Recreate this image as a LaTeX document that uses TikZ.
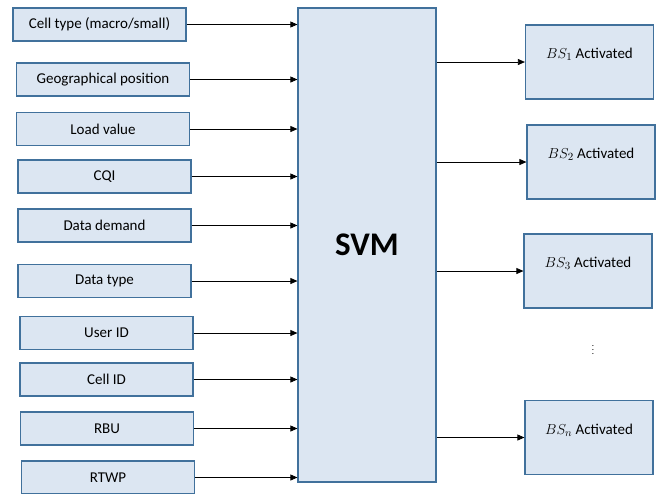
\documentclass[tikz,border=0pt]{standalone}
\usepackage{fontspec}
\setmainfont{Carlito}
\usetikzlibrary{arrows.meta}
\definecolor{boxfill}{RGB}{220,230,242}
\definecolor{boxline}{RGB}{65,113,156}

\begin{document}
\begin{tikzpicture}[x=1pt,y=-1pt,
    inbox/.style={draw=boxline, fill=boxfill, line width=1.2pt,
        minimum width=173pt, minimum height=33pt, inner sep=0pt,
        font=\fontsize{15}{17}\selectfont},
    outbox/.style={draw=boxline, fill=boxfill, line width=1.2pt,
        minimum width=128pt, minimum height=74pt, inner sep=0pt,
        text height=10pt, text depth=17pt,
        font=\fontsize{15}{17}\selectfont},
    feed/.style={-{Triangle[length=7pt,width=6pt]}, line width=0.7pt}]
\useasboundingbox (0,0) rectangle (659,493);
% the classifier in the middle
\node[draw=boxline, fill=boxfill, line width=1.2pt,
      minimum width=138pt, minimum height=474pt,
      font=\fontsize{33}{38}\selectfont\bfseries] (svm) at (367,245) {SVM};
% input features on the left
\node[inbox] (celltype) at (99.5,24.5) {Cell type (macro/small)};
\node[inbox] (geo) at (103,79.5) {Geographical position};
\node[inbox] (load) at (103,129) {Load value};
\node[inbox] (cqi) at (104.5,176.5) {CQI};
\node[inbox] (demand) at (104.5,225.5) {Data demand};
\node[inbox] (dtype) at (104.5,281) {Data type};
\node[inbox] (user) at (106.5,333) {User ID};
\node[inbox] (cell) at (106.5,379.5) {Cell ID};
\node[inbox] (rbu) at (107,428.5) {RBU};
\node[inbox] (rtwp) at (108,477.5) {RTWP};
% outputs on the right
\node[outbox] (bsa) at (589.5,62) {$BS_1$ Activated};
\node[outbox] (bsb) at (591,162) {$BS_2$ Activated};
\node[outbox] (bsc) at (588,271) {$BS_3$ Activated};
\node[font=\small] (dots) at (593,347) {$\vdots$};
\node[outbox] (bsn) at (589,437.5) {$BS_n$ Activated};
% inputs into the SVM
\foreach \f in {celltype,geo,load,cqi,demand,dtype,user,cell,rbu,rtwp}
    \draw[feed] (\f.east) -- (\f.east -| svm.west);
% SVM to the base stations
\foreach \b in {bsa,bsb,bsc,bsn}
    \draw[feed] (\b.west -| svm.east) -- (\b.west);
\end{tikzpicture}
\end{document}
